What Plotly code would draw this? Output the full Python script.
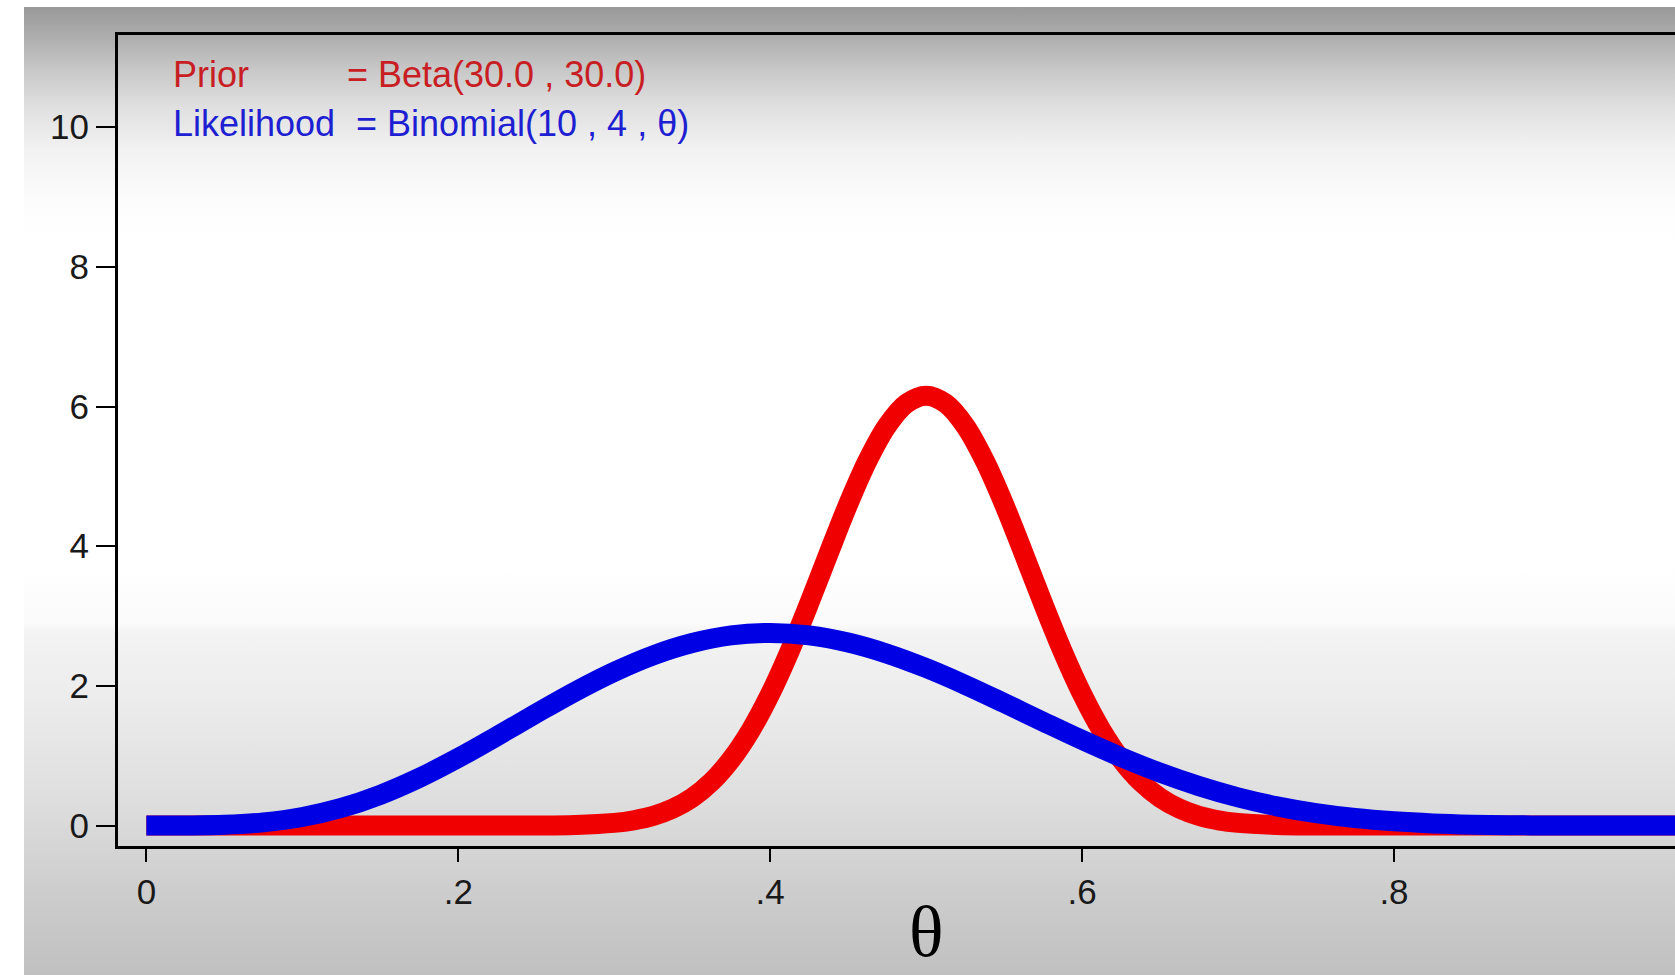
import base64
import plotly.graph_objects as go

# ---- data ----
theta_blue = [0.0, 0.025, 0.05, 0.075, 0.1, 0.125, 0.15, 0.175, 0.2, 0.225, 0.25, 0.275,
              0.3, 0.325, 0.35, 0.375, 0.4, 0.425, 0.45, 0.475, 0.5, 0.525, 0.55, 0.575,
              0.6, 0.625, 0.65, 0.675, 0.7, 0.725, 0.75, 0.775, 0.8, 0.825, 0.85, 0.875,
              0.9, 0.925, 0.95, 0.975, 1.0]
likelihood = [0.0, 0.001, 0.011, 0.046, 0.123, 0.253, 0.441, 0.683, 0.969, 1.283, 1.606, 1.919,
              2.201, 2.438, 2.614, 2.723, 2.759, 2.724, 2.622, 2.462, 2.256, 2.016, 1.755, 1.488,
              1.226, 0.980, 0.758, 0.565, 0.404, 0.276, 0.178, 0.108, 0.061, 0.031, 0.014, 0.005,
              0.002, 0.0, 0.0, 0.0, 0.0]

theta_red = [0.0, 0.05, 0.1, 0.15, 0.2, 0.225, 0.25, 0.275, 0.3, 0.3125, 0.325, 0.3375,
             0.35, 0.3625, 0.375, 0.3875, 0.4, 0.4125, 0.425, 0.4375, 0.45, 0.4625, 0.475,
             0.4875, 0.5, 0.5125, 0.525, 0.5375, 0.55, 0.5625, 0.575, 0.5875, 0.6, 0.6125,
             0.625, 0.6375, 0.65, 0.6625, 0.675, 0.6875, 0.7, 0.725, 0.75, 0.775, 0.8, 0.85,
             0.9, 0.95, 1.0]
prior = [0.0, 0.0, 0.0, 0.0, 0.0, 0.0002, 0.0015, 0.009, 0.039, 0.076, 0.139, 0.242,
         0.399, 0.629, 0.947, 1.364, 1.884, 2.497, 3.181, 3.898, 4.599, 5.226, 5.724,
         6.044, 6.155, 6.044, 5.724, 5.226, 4.599, 3.898, 3.181, 2.497, 1.884, 1.364,
         0.947, 0.629, 0.399, 0.242, 0.139, 0.076, 0.039, 0.009, 0.0015, 0.0002, 0.0, 0.0,
         0.0, 0.0, 0.0]

x_tickvals = [0, 0.2, 0.4, 0.6, 0.8]
x_ticktext = ["0", ".2", ".4", ".6", ".8"]
y_tickvals = [0, 2, 4, 6, 8, 10]
y_ticktext = ["0", "2", "4", "6", "8", "10"]

prior_label = "Prior"
prior_formula = "= Beta(30.0 , 30.0)"
lik_label = "Likelihood"
lik_formula = "= Binomial(10 , 4 , θ)"
x_title = "θ"

# ---- page geometry (pixels) ----
W, H = 1675, 975
L, R, T, B = 118, 0, 35, 129
pw, ph = W - L - R, H - T - B


def px(xp):
    return (xp - L) / pw


def py(yp):
    return (H - B - yp) / ph


# gradient background as an SVG image (region y = 7 .. 975)
stops = [(0.0, 153), (0.029, 172), (0.065, 200), (0.106, 225), (0.148, 242), (0.199, 252),
         (0.241, 255), (0.58, 255), (0.638, 250), (0.646, 243), (0.716, 236), (0.819, 222),
         (0.902, 207), (1.0, 192)]
stop_xml = "".join(
    f"<stop offset='{o}' stop-color='rgb({g},{g},{g})'/>" for o, g in stops)
svg = ("<svg xmlns='http://www.w3.org/2000/svg' width='100' height='968' "
       "preserveAspectRatio='none' viewBox='0 0 100 968'>"
       "<defs><linearGradient id='g' x1='0' y1='0' x2='0' y2='1'>" + stop_xml +
       "</linearGradient></defs><rect x='0' y='0' width='100' height='968' fill='url(#g)'/></svg>")
src = "data:image/svg+xml;base64," + base64.b64encode(svg.encode()).decode()

fig = go.Figure()
fig.add_trace(go.Scatter(x=theta_red, y=prior, mode="lines",
                         line=dict(color="rgb(240,0,0)", width=20, shape="spline"),
                         showlegend=False, hoverinfo="skip"))
fig.add_trace(go.Scatter(x=theta_blue, y=likelihood, mode="lines",
                         line=dict(color="rgb(0,0,228)", width=20, shape="spline"),
                         showlegend=False, hoverinfo="skip"))

font_family = "Liberation Sans, Arial, sans-serif"
red_txt = "rgb(200,30,35)"
blue_txt = "rgb(30,30,210)"
fs = 36
annotations = [
    dict(text=prior_label, x=px(171), y=py(74), xref="paper", yref="paper",
         xanchor="left", yanchor="middle", showarrow=False,
         font=dict(family=font_family, size=fs, color=red_txt)),
    dict(text=prior_formula, x=px(345), y=py(74), xref="paper", yref="paper",
         xanchor="left", yanchor="middle", showarrow=False,
         font=dict(family=font_family, size=fs, color=red_txt)),
    dict(text=lik_label, x=px(171), y=py(123), xref="paper", yref="paper",
         xanchor="left", yanchor="middle", showarrow=False,
         font=dict(family=font_family, size=fs, color=blue_txt)),
    dict(text=lik_formula, x=px(354), y=py(123), xref="paper", yref="paper",
         xanchor="left", yanchor="middle", showarrow=False,
         font=dict(family=font_family, size=fs, color=blue_txt)),
    dict(text=x_title, x=0.5, y=py(932), xref="x", yref="paper",
         xanchor="center", yanchor="middle", showarrow=False,
         font=dict(family="Liberation Serif, Times New Roman, serif", size=72, color="black")),
]

fig.update_layout(
    width=W, height=H,
    margin=dict(l=L, r=R, t=T, b=B, pad=0),
    paper_bgcolor="white",
    plot_bgcolor="rgba(0,0,0,0)",
    images=[dict(source=src, xref="paper", yref="paper",
                 x=px(24), y=py(7), sizex=(W - 24) / pw, sizey=(H - 7) / ph,
                 xanchor="left", yanchor="top", sizing="stretch", layer="below")],
    annotations=annotations,
    xaxis=dict(range=[-0.0182, 0.9802], tickvals=x_tickvals, ticktext=x_ticktext,
               showgrid=False, zeroline=False, showline=True, linecolor="black",
               linewidth=3, mirror=True, ticks="outside", ticklen=13, tickwidth=2,
               tickcolor="black", ticklabelstandoff=0,
               tickfont=dict(family=font_family, size=35, color="rgb(25,25,25)")),
    yaxis=dict(range=[-0.292, 11.319], tickvals=y_tickvals, ticktext=y_ticktext,
               showgrid=False, zeroline=False, showline=True, linecolor="black",
               linewidth=3, mirror=False, ticks="outside", ticklen=19, tickwidth=2,
               tickcolor="black", ticklabelstandoff=0,
               tickfont=dict(family=font_family, size=35, color="rgb(25,25,25)")),
)

fig.write_html("out.html")
